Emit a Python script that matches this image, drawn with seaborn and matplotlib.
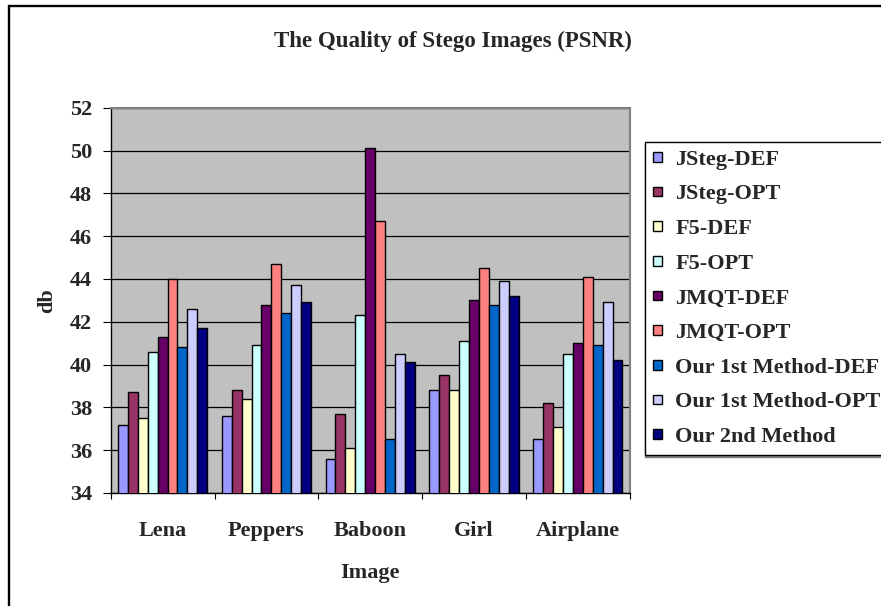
import matplotlib
matplotlib.use("Agg")
import matplotlib.pyplot as plt
from matplotlib.patches import Rectangle
from matplotlib.ticker import FixedLocator, MultipleLocator
import pandas as pd
import seaborn as sns

# PSNR (dB) of stego images per test image and embedding method
images = ["Lena", "Peppers", "Baboon", "Girl", "Airplane"]
methods = ["JSteg-DEF", "JSteg-OPT", "F5-DEF", "F5-OPT", "JMQT-DEF",
           "JMQT-OPT", "Our 1st Method-DEF", "Our 1st Method-OPT", "Our 2nd Method"]

jsteg_def = [37.2, 37.6, 35.6, 38.8, 36.5]
jsteg_opt = [38.7, 38.8, 37.7, 39.5, 38.2]
f5_def = [37.5, 38.4, 36.1, 38.8, 37.1]
f5_opt = [40.6, 40.9, 42.3, 41.1, 40.5]
jmqt_def = [41.3, 42.8, 50.1, 43.0, 41.0]
jmqt_opt = [44.0, 44.7, 46.7, 44.5, 44.1]
our1_def = [40.8, 42.4, 36.5, 42.8, 40.9]
our1_opt = [42.6, 43.7, 40.5, 43.9, 42.9]
our2 = [41.7, 42.9, 40.1, 43.2, 40.2]

colors = ["#9999FF", "#993366", "#FFFFCC", "#CCFFFF", "#660066",
          "#FF8080", "#0066CC", "#CCCCFF", "#000080"]

series = [jsteg_def, jsteg_opt, f5_def, f5_opt, jmqt_def,
          jmqt_opt, our1_def, our1_opt, our2]
rows = []
for m, vals in zip(methods, series):
    for img, v in zip(images, vals):
        rows.append({"Image": img, "Method": m, "PSNR": v})
df = pd.DataFrame(rows)

sns.set_style("white")
plt.rcParams["font.family"] = ["Liberation Serif", "DejaVu Serif"]
plt.rcParams["font.weight"] = "bold"

W, H = 881, 606
fig = plt.figure(figsize=(W / 100, H / 100), dpi=100)
ax = fig.add_axes([110.7 / W, 1 - 493 / H, (629.7 - 110.7) / W, (493 - 107.7) / H])
ax.set_facecolor("#C0C0C0")

sns.barplot(data=df, x="Image", y="PSNR", hue="Method", order=images,
            hue_order=methods, palette=colors, saturation=1, width=0.86,
            edgecolor="black", linewidth=1.0, errorbar=None, ax=ax, zorder=3)

ax.set_ylim(34, 52)
ax.yaxis.set_major_locator(MultipleLocator(2))
ax.grid(axis="y", color="black", linewidth=0.9, zorder=1)
ax.set_axisbelow(True)

for s in ["left", "bottom"]:
    ax.spines[s].set_color("black")
    ax.spines[s].set_linewidth(1.0)
for s in ["top", "right"]:
    ax.spines[s].set_color("#808080")
    ax.spines[s].set_linewidth(1.5)

ax.tick_params(axis="y", direction="out", length=5.5, width=0.8, color="black",
               pad=8, labelsize=16, left=True)
ax.tick_params(axis="x", which="major", length=0, pad=20, labelsize=16)
ax.xaxis.set_minor_locator(FixedLocator([i - 0.5 for i in range(len(images) + 1)]))
ax.tick_params(axis="x", which="minor", direction="out", length=4.5, width=0.8,
               color="black", bottom=True)
for lab in ax.get_xticklabels() + ax.get_yticklabels():
    lab.set_fontweight("bold")

ax.set_xlabel("Image", fontsize=16, fontweight="bold", labelpad=16)
ax.set_ylabel("db", fontsize=16, fontweight="bold", labelpad=9)

fig.text(453 / W, 1 - 47.3 / H, "The Quality of Stego Images (PSNR)",
         ha="center", va="baseline", fontsize=16.5, fontweight="bold")

handles, labels = ax.get_legend_handles_labels()
if ax.legend_ is not None:
    ax.legend_.remove()
leg = fig.legend(handles, labels, loc="upper left",
                 bbox_to_anchor=(645 / W, 1 - 142 / H), borderaxespad=0,
                 prop={"size": 16, "weight": "bold"}, frameon=True,
                 fancybox=False, handlelength=0.42, handleheight=0.3,
                 handletextpad=0.6, labelspacing=0.66, borderpad=0.35,
                 shadow={"ox": 0, "oy": -1.5, "color": "#808080", "alpha": 1})
leg.get_frame().set_edgecolor("black")
leg.get_frame().set_linewidth(1.0)
leg.get_frame().set_facecolor("white")

# outer chart-area frame
fig.patches.append(Rectangle((8.5 / W, -0.1), 1.2, 1.1 - 5.5 / H,
                             transform=fig.transFigure, fill=False,
                             edgecolor="black", linewidth=1.7))

fig.savefig("out.png", dpi=100)
